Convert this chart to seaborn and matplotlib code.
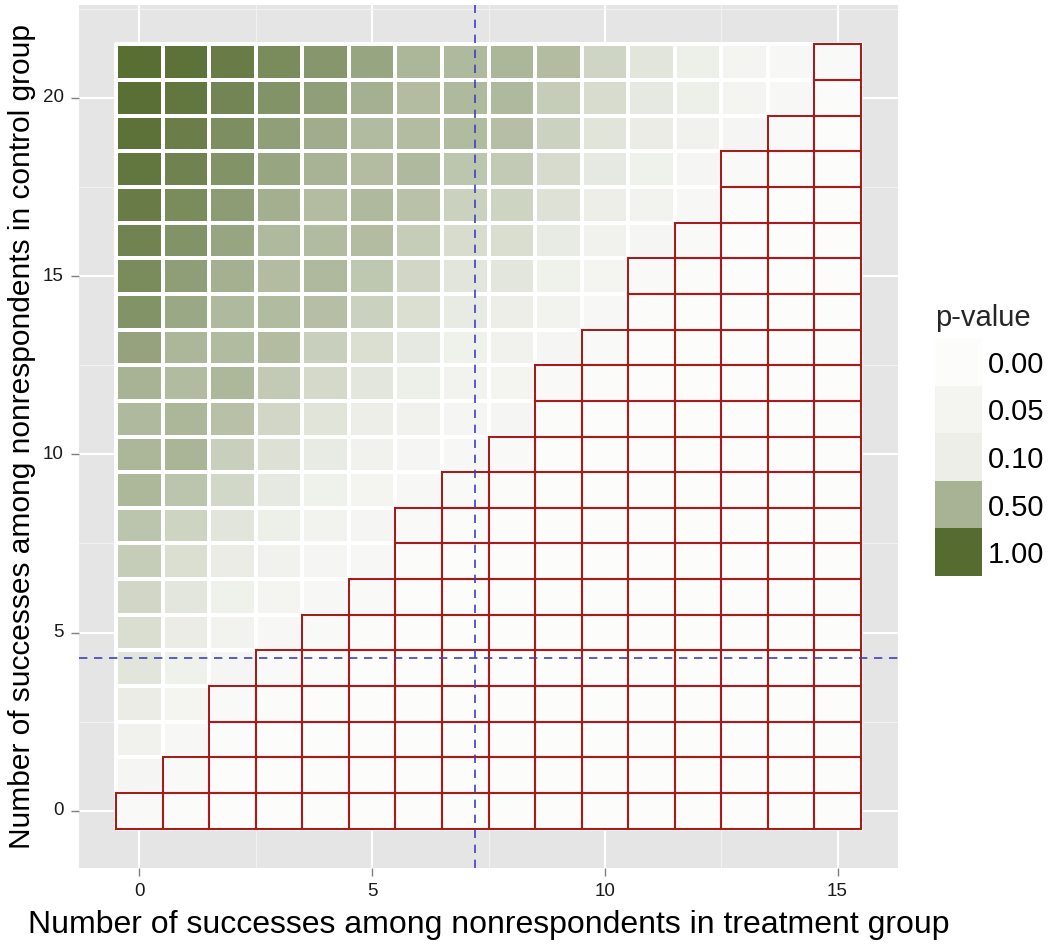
import numpy as np
import pandas as pd
import matplotlib
matplotlib.use("Agg")
import matplotlib.pyplot as plt
import seaborn as sns
from matplotlib.colors import LinearSegmentedColormap
from matplotlib.patches import Rectangle

# ---------------- data ----------------
treatment_successes = list(range(16))   # x categories
control_successes = list(range(22))     # y categories

# estimated p-values, rows listed from control = 21 (top) down to control = 0
p_values = [
    [0.98, 0.95, 0.88, 0.78, 0.70, 0.60, 0.48, 0.46, 0.48, 0.44, 0.27, 0.16, 0.09, 0.05, 0.03, 0.02],
    [0.97, 0.92, 0.82, 0.72, 0.64, 0.52, 0.44, 0.46, 0.46, 0.33, 0.22, 0.13, 0.09, 0.05, 0.03, 0.01],
    [0.95, 0.87, 0.76, 0.64, 0.55, 0.45, 0.44, 0.45, 0.42, 0.29, 0.17, 0.11, 0.07, 0.04, 0.02, 0.00],
    [0.92, 0.84, 0.72, 0.60, 0.50, 0.44, 0.46, 0.38, 0.35, 0.23, 0.13, 0.08, 0.04, 0.02, 0.01, 0.00],
    [0.88, 0.78, 0.66, 0.53, 0.44, 0.46, 0.40, 0.30, 0.28, 0.18, 0.10, 0.06, 0.03, 0.01, 0.00, 0.00],
    [0.83, 0.72, 0.60, 0.46, 0.45, 0.44, 0.33, 0.22, 0.21, 0.12, 0.07, 0.04, 0.02, 0.00, 0.00, 0.00],
    [0.78, 0.65, 0.52, 0.44, 0.46, 0.37, 0.26, 0.16, 0.15, 0.08, 0.05, 0.02, 0.01, 0.00, 0.00, 0.00],
    [0.72, 0.58, 0.46, 0.45, 0.42, 0.30, 0.20, 0.12, 0.10, 0.06, 0.03, 0.01, 0.00, 0.00, 0.00, 0.00],
    [0.62, 0.48, 0.45, 0.44, 0.31, 0.20, 0.13, 0.08, 0.07, 0.04, 0.02, 0.00, 0.00, 0.00, 0.00, 0.00],
    [0.50, 0.45, 0.47, 0.35, 0.24, 0.15, 0.09, 0.06, 0.05, 0.02, 0.01, 0.00, 0.00, 0.00, 0.00, 0.00],
    [0.46, 0.48, 0.41, 0.26, 0.17, 0.10, 0.07, 0.04, 0.04, 0.01, 0.00, 0.00, 0.00, 0.00, 0.00, 0.00],
    [0.48, 0.49, 0.31, 0.19, 0.12, 0.07, 0.04, 0.03, 0.02, 0.00, 0.00, 0.00, 0.00, 0.00, 0.00, 0.00],
    [0.47, 0.39, 0.25, 0.13, 0.08, 0.05, 0.03, 0.02, 0.01, 0.00, 0.00, 0.00, 0.00, 0.00, 0.00, 0.00],
    [0.39, 0.28, 0.16, 0.09, 0.06, 0.04, 0.02, 0.01, 0.00, 0.00, 0.00, 0.00, 0.00, 0.00, 0.00, 0.00],
    [0.33, 0.20, 0.11, 0.07, 0.04, 0.03, 0.01, 0.00, 0.00, 0.00, 0.00, 0.00, 0.00, 0.00, 0.00, 0.00],
    [0.26, 0.15, 0.08, 0.05, 0.03, 0.02, 0.00, 0.00, 0.00, 0.00, 0.00, 0.00, 0.00, 0.00, 0.00, 0.00],
    [0.21, 0.11, 0.06, 0.03, 0.02, 0.01, 0.00, 0.00, 0.00, 0.00, 0.00, 0.00, 0.00, 0.00, 0.00, 0.00],
    [0.16, 0.08, 0.04, 0.02, 0.01, 0.00, 0.00, 0.00, 0.00, 0.00, 0.00, 0.00, 0.00, 0.00, 0.00, 0.00],
    [0.11, 0.05, 0.02, 0.01, 0.00, 0.00, 0.00, 0.00, 0.00, 0.00, 0.00, 0.00, 0.00, 0.00, 0.00, 0.00],
    [0.07, 0.03, 0.01, 0.00, 0.00, 0.00, 0.00, 0.00, 0.00, 0.00, 0.00, 0.00, 0.00, 0.00, 0.00, 0.00],
    [0.04, 0.02, 0.00, 0.00, 0.00, 0.00, 0.00, 0.00, 0.00, 0.00, 0.00, 0.00, 0.00, 0.00, 0.00, 0.00],
    [0.02, 0.01, 0.00, 0.00, 0.00, 0.00, 0.00, 0.00, 0.00, 0.00, 0.00, 0.00, 0.00, 0.00, 0.00, 0.00],
]

# highest control value outlined in red, per treatment value
red_top = [0, 1, 3, 4, 5, 6, 8, 9, 10, 12, 13, 15, 16, 18, 19, 21]

x_ticks = [0, 5, 10, 15]
y_ticks = [0, 5, 10, 15, 20]
legend_breaks = [0.00, 0.05, 0.10, 0.50, 1.00]
legend_labels = ["0.00", "0.05", "0.10", "0.50", "1.00"]
treatment_cut = 7.2
control_cut = 4.3

x_title = "Number of successes among nonrespondents in treatment group"
y_title = "Number of successes among nonrespondents in control group"

# ---------------- style ----------------
sns.set_theme(style="white")
plt.rcParams["font.family"] = ["Liberation Sans", "DejaVu Sans"]

low_col, high_col = "#fcfcfb", "#556b2f"
cmap = LinearSegmentedColormap.from_list("pval", [low_col, high_col])
red_col = "#a51c1c"
dash_col = "#3f3fc4"

W, H = 1050, 947
fig = plt.figure(figsize=(W / 100, H / 100), dpi=100)
ax = fig.add_axes([79 / W, 1 - 868 / H, (898 - 79) / W, (868 - 5) / H])
ax.set_facecolor("#e5e5e5")

df = pd.DataFrame(p_values[::-1], index=control_successes, columns=treatment_successes)
sns.heatmap(df, cmap=cmap, vmin=0, vmax=1, linewidths=1.6, linecolor="white",
            cbar=False, ax=ax)

off = 0.5  # heatmap cell j spans [j, j+1]
ax.set_xlim(-1.3 + off, 16.3 + off)
ax.set_ylim(-1.6 + off, 22.6 + off)

ax.set_xticks([t + off for t in x_ticks])
ax.set_xticklabels([str(t) for t in x_ticks], rotation=0)
ax.set_yticks([t + off for t in y_ticks])
ax.set_yticklabels([str(t) for t in y_ticks], rotation=0, va="center")
ax.set_xticks([t + off for t in np.arange(2.5, 16.3, 5)], minor=True)
ax.set_yticks([t + off for t in np.arange(2.5, 22.6, 5)], minor=True)

ax.set_axisbelow(True)
ax.grid(which="major", color="white", lw=1.5)
ax.grid(which="minor", color="#f2f2f2", lw=0.8)
for s in ax.spines.values():
    s.set_visible(False)

ax.tick_params(which="major", bottom=True, left=True, length=5.8, width=1,
               color="#7f7f7f", labelsize=13.5, labelcolor="#1a1a1a", pad=5)
ax.tick_params(which="minor", length=0)

# red outlines for the significant cells
for x, top in zip(treatment_successes, red_top):
    for y in control_successes:
        if y <= top:
            ax.add_patch(Rectangle((x, y), 1, 1, fill=False, edgecolor=red_col,
                                   lw=1.5, zorder=3))

ax.axvline(treatment_cut + off, color=dash_col, lw=1.2, ls=(0, (5, 4)), zorder=4)
ax.axhline(control_cut + off, color=dash_col, lw=1.2, ls=(0, (5, 4)), zorder=4)

ax.set_xlabel(x_title, fontsize=23, labelpad=7, color="black")
ax.set_ylabel(y_title, fontsize=21.5, labelpad=5, color="black")

# ---------------- legend ----------------
lax = fig.add_axes([935 / W, 1 - 576 / H, 47 / W, 238 / H])
sns.heatmap(np.array(legend_breaks).reshape(-1, 1), cmap=cmap, vmin=0, vmax=1,
            cbar=False, ax=lax, linewidths=0, xticklabels=False,
            yticklabels=legend_labels)
lax.yaxis.tick_right()
lax.tick_params(axis="y", length=0, labelsize=21, pad=4, labelrotation=0,
                labelcolor="black")
lax.tick_params(axis="x", length=0)
lax.set_title("p-value", loc="left", fontsize=21, pad=9)

fig.savefig("out.png", dpi=100)
